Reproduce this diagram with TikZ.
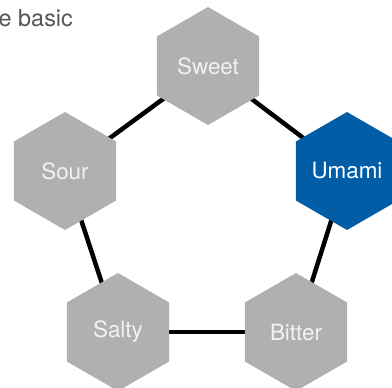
\documentclass[tikz,border=0pt]{standalone}
\usepackage{fontspec}
\setmainfont{TeX Gyre Heros}
\usetikzlibrary{shapes.geometric,backgrounds}
\definecolor{hexgray}{HTML}{B0B0B0}
\definecolor{hexblue}{HTML}{005DA6}
\definecolor{labelwhite}{HTML}{F2F2F2}
\definecolor{titlegray}{HTML}{555555}
\begin{document}
\begin{tikzpicture}[x=1bp,y=-1bp,
  hexnode/.style={regular polygon, regular polygon sides=6, shape border rotate=30,
    minimum size=118bp, inner sep=0pt, fill=hexgray, text=labelwhite,
    font=\fontsize{22.5}{24}\selectfont},
  bond/.style={line width=4.5bp, black}]
\useasboundingbox (0,0) rectangle (392,388);
\clip (0,0) rectangle (392,388);
\node[anchor=base west, text=titlegray, font=\fontsize{23.5}{26}\selectfont, inner sep=0pt] (title) at (-1.5,26.5) {e basic};
\node[hexnode] (sweet) at (208,66) {Sweet};
\node[hexnode] (sour) at (65,171) {Sour};
\node[hexnode, fill=hexblue, text=white] (umami) at (347,171) {Umami};
\node[hexnode] (salty) at (118,332) {Salty};
\node[hexnode] (bitter) at (296,332) {Bitter};
\begin{pgfonlayer}{background}
\draw[bond] (sweet.center) -- (umami.center);
\draw[bond] (umami.center) -- (bitter.center);
\draw[bond] (bitter.center) -- (salty.center);
\draw[bond] (salty.center) -- (sour.center);
\draw[bond] (sour.center) -- (sweet.center);
\end{pgfonlayer}
\end{tikzpicture}
\end{document}
